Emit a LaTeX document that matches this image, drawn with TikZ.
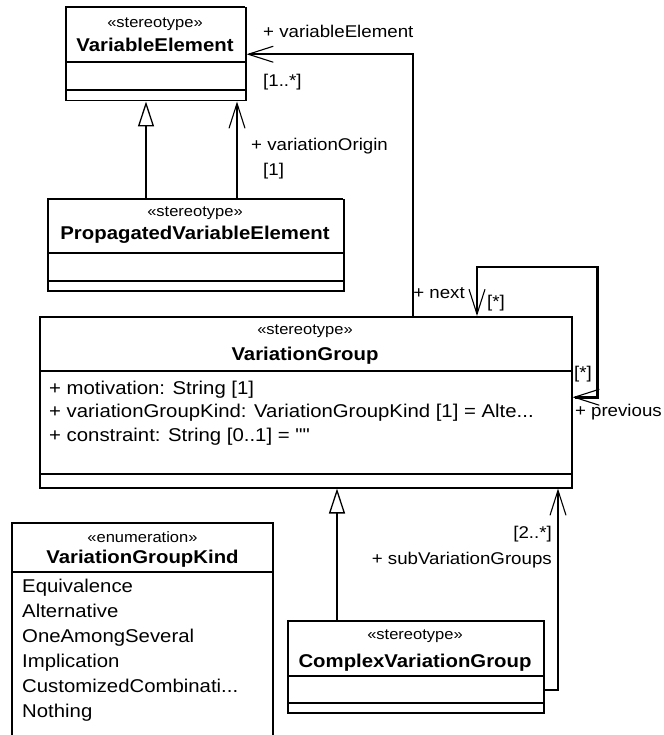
\documentclass[tikz,border=0pt]{standalone}
\usepackage{fontspec}
\usepackage{tikz}
\usetikzlibrary{arrows.meta}
\newfontfamily\umlfont[FakeStretch=1.1]{Liberation Sans}

\tikzset{
  umlbarb/.tip={Straight Barb[length=25pt,width=16pt,line width=1.1pt]},
  classbox/.style={draw, line width=1.5, anchor=north west, inner sep=0},
  sepline/.style={line width=1.5},
  topline/.style={line width=2.4},
  even/.style={inner sep=0, text height=0.72em, text depth=0.2em, yshift=-3},
  sterotext/.style={even, font=\umlfont\fontsize{15}{17}\selectfont},
  nametext/.style={even, font=\umlfont\bfseries\fontsize{18.5}{21}\selectfont},
  attrtext/.style={even, font=\umlfont\fontsize{18.5}{21}\selectfont, anchor=west},
  roletext/.style={even, font=\umlfont\fontsize{17}{20}\selectfont},
  assoc/.style={line width=2.5, -umlbarb},
  general/.style={line width=2.5, -{Triangle[open,length=25pt,width=16pt,line width=1.3pt,fill=white]}},
}

\begin{document}
\begin{tikzpicture}[x=1pt,y=-1pt]
\useasboundingbox (0,0) rectangle (663,735);

%Class VariableElement
\node[classbox, minimum width=180, minimum height=93] (ve) at (65,7) {};
\draw[topline] (65,7) -- (245,7);
\draw[sepline] (65,62) -- (245,62);
\draw[sepline] (65,90) -- (245,90);
\node[sterotext] (ve-st) at (155,22) {«stereotype»};
\node[nametext] (ve-name) at (155,46) {VariableElement};

%Class PropagatedVariableElement
\node[classbox, minimum width=296, minimum height=91] (pve) at (47,199) {};
\draw[topline] (47,199) -- (343,199);
\draw[sepline] (47,253) -- (343,253);
\draw[sepline] (47,281) -- (343,281);
\node[sterotext] (pve-st) at (195,211) {«stereotype»};
\node[nametext] (pve-name) at (195,234) {PropagatedVariableElement};

%Class VariationGroup
\node[classbox, minimum width=532, minimum height=171] (vg) at (39,316) {};
\draw[sepline] (39,371) -- (571,371);
\draw[sepline] (39,474) -- (571,474);
\node[sterotext] (vg-st) at (305,329) {«stereotype»};
\node[nametext] (vg-name) at (305,355) {VariationGroup};
\node[attrtext] (vg-a1) at (49,389) {+ motivation: String [1]};
\node[attrtext] (vg-a2) at (49,412) {+ variationGroupKind: VariationGroupKind [1] = Alte...};
\node[attrtext] (vg-a3) at (49,436) {+ constraint: String [0..1] = ""};

%Class ComplexVariationGroup
\node[classbox, minimum width=256, minimum height=92] (cvg) at (287,620) {};
\draw[sepline] (287,676) -- (543,676);
\draw[sepline] (287,703) -- (543,703);
\node[sterotext] (cvg-st) at (415,634) {«stereotype»};
\node[nametext] (cvg-name) at (415,662) {ComplexVariationGroup};

%Enumeration VariationGroupKind (runs off the bottom)
\draw[sepline] (12,735) |- (273,523) -- (273,735);
\draw[sepline] (12,572) -- (273,572);
\node[sterotext] (vgk-st) at (142.5,537) {«enumeration»};
\node[nametext] (vgk-name) at (142.5,558) {VariationGroupKind};
\node[attrtext] (vgk-1) at (22,587) {Equivalence};
\node[attrtext] (vgk-2) at (22,612) {Alternative};
\node[attrtext] (vgk-3) at (22,637) {OneAmongSeveral};
\node[attrtext] (vgk-4) at (22,662) {Implication};
\node[attrtext] (vgk-5) at (22,687) {CustomizedCombinati...};
\node[attrtext] (vgk-6) at (22,712) {Nothing};

%Generalization PropagatedVariableElement -> VariableElement
\coordinate (ve-gen) at ([xshift=81]ve.south west);
\draw[general] (pve.north -| ve-gen) -- (ve-gen);

%Association variationOrigin
\coordinate (ve-org) at ([xshift=172]ve.south west);
\draw[assoc] (pve.north -| ve-org) -- (ve-org);
\node[roletext, anchor=west] (r-org) at (251,145) {+ variationOrigin};
\node[roletext, anchor=west] (m-org) at (263,170) {[1]};

%Association variableElement
\draw[assoc] ([xshift=374]vg.north west) |- (ve.east);
\node[roletext, anchor=west] (r-ve) at (263,32) {+ variableElement};
\node[roletext, anchor=west] (m-ve) at (263,81) {[1..*]};

%Self association next / previous
\draw[line width=2.5, umlbarb-umlbarb] ([xshift=438]vg.north west) -- ++(0,-49)
  -| ([xshift=25,yshift=5]vg.east) -- ([yshift=5]vg.east);
\node[roletext, anchor=east] (r-next) at (465,293) {+ next};
\node[roletext, anchor=west] (m-next) at (487,302) {[*]};
\node[roletext, anchor=west] (m-prev) at (574,373) {[*]};
\node[roletext, anchor=east] (r-prev) at (662,411) {+ previous};

%Generalization ComplexVariationGroup -> VariationGroup
\coordinate (vg-gen) at ([xshift=298]vg.south west);
\draw[general] (cvg.north -| vg-gen) -- (vg-gen);

%Association subVariationGroups
\coordinate (vg-sub) at ([xshift=519]vg.south west);
\draw[assoc] ([yshift=-23]cvg.east) -| (vg-sub);
\node[roletext, anchor=east] (m-sub) at (552,533) {[2..*]};
\node[roletext, anchor=east] (r-sub) at (552,559) {+ subVariationGroups};
\end{tikzpicture}
\end{document}
